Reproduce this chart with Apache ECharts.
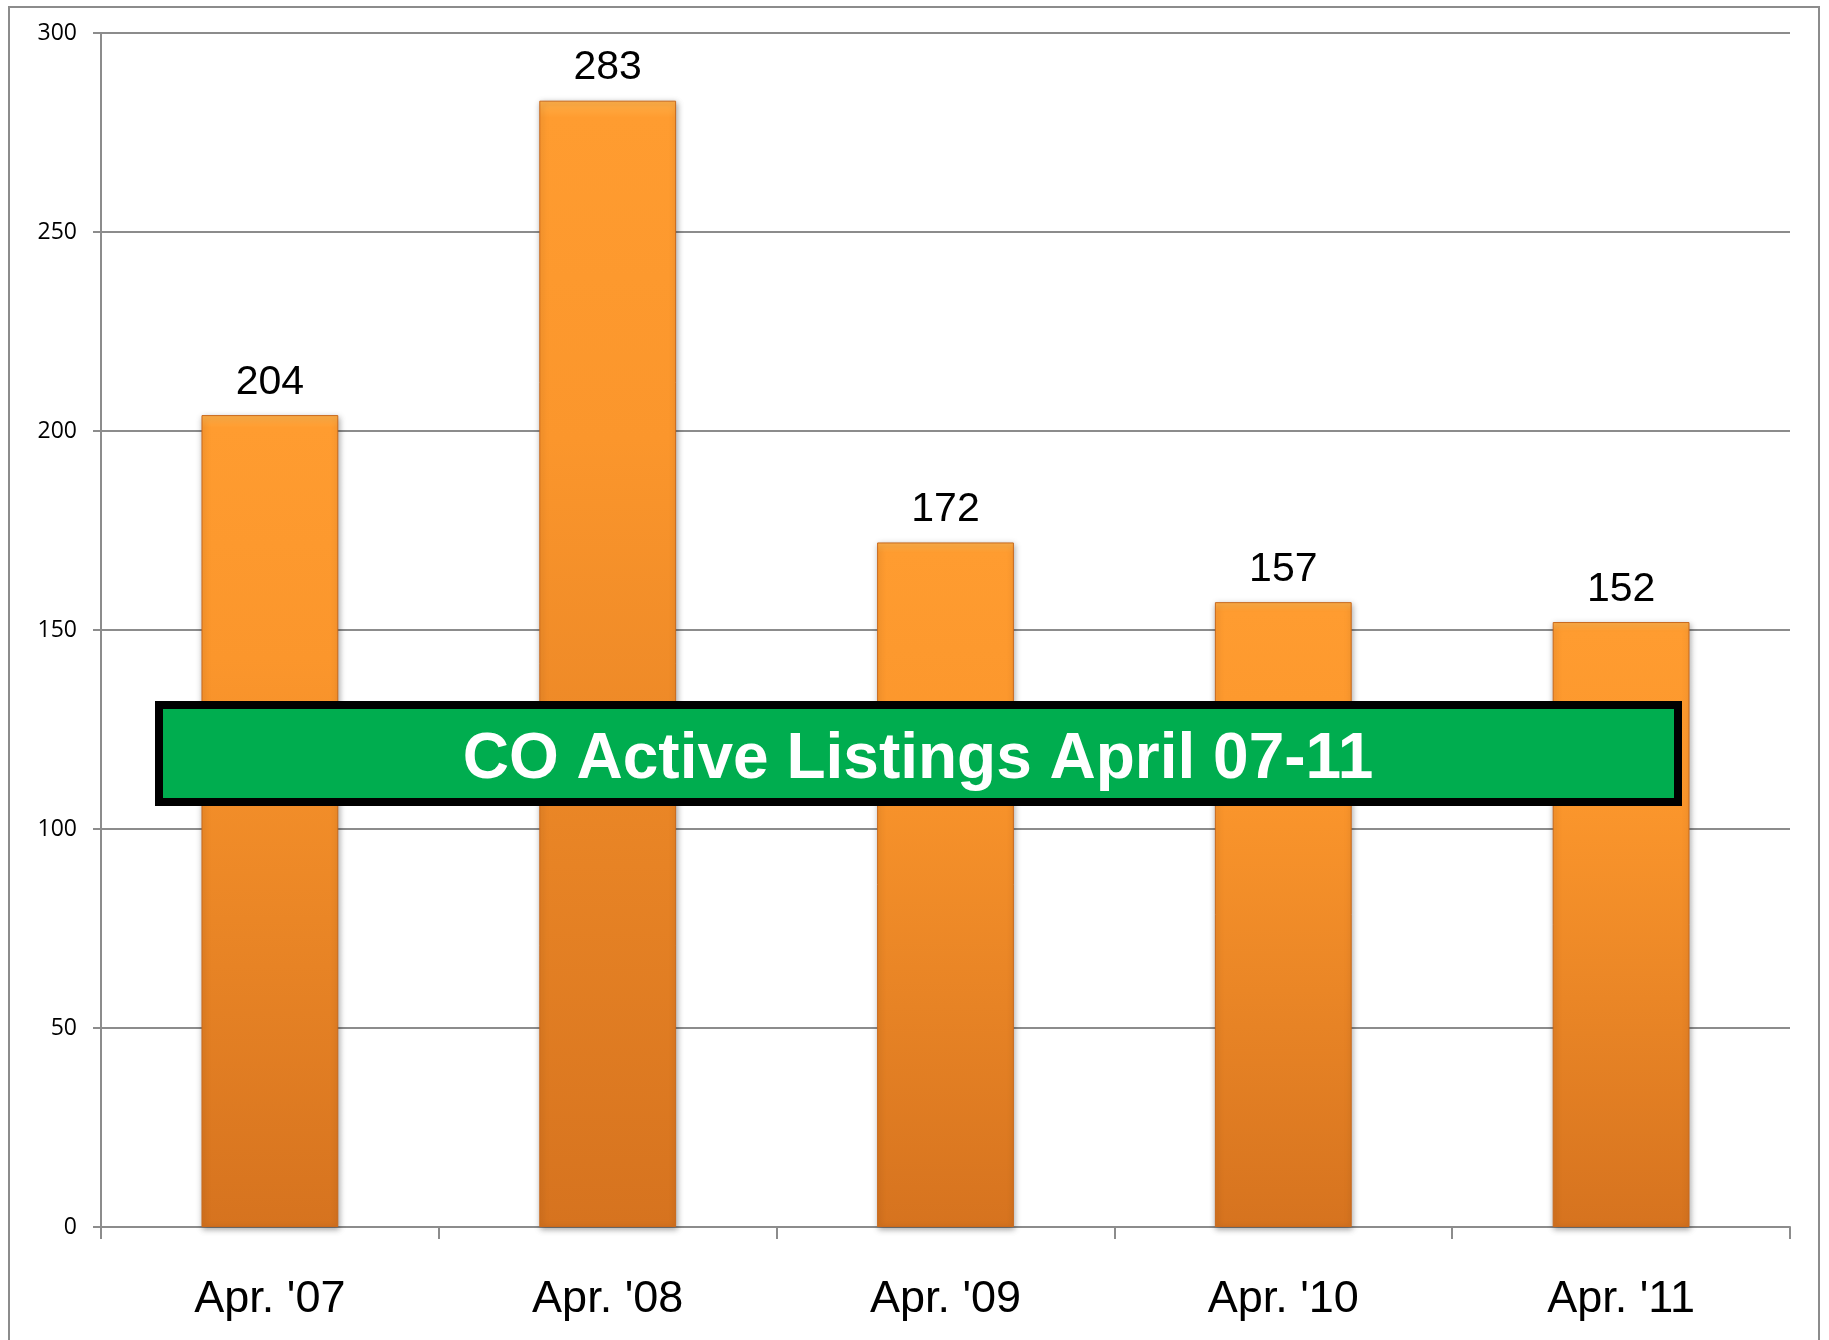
<!DOCTYPE html>
<html>
<head>
<meta charset="utf-8">
<script src="https://cdn.jsdelivr.net/npm/echarts@6/dist/echarts.min.js"></script>
<style>
  html, body { margin: 0; padding: 0; background: #fff; }
  #chart { width: 1829px; height: 1340px; }
</style>
</head>
<body>
<div id="chart"></div>
<script>
// data
const categories = ["Apr. '07", "Apr. '08", "Apr. '09", "Apr. '10", "Apr. '11"];
const listings = [204, 283, 172, 157, 152];
const boxTitle = "CO Active Listings April 07-11";

let myChart = echarts.init(document.getElementById("chart"));

let option = {
  backgroundColor: "#fff",
  animation: false,
  grid: {
    left: 101,
    top: 33,
    right: 39,
    bottom: 113,
  },
  xAxis: {
    type: "category",
    data: categories,
    axisLine: { lineStyle: { color: "#8c8c8c", width: 2 } },
    axisTick: { show: true, length: 12, lineStyle: { color: "#8c8c8c", width: 2 } },
    axisLabel: {
      color: "#000",
      fontFamily: "Liberation Sans, Arial, sans-serif",
      fontSize: 45,
      margin: 50,
    },
  },
  yAxis: {
    type: "value",
    min: 0,
    max: 300,
    interval: 50,
    axisLine: { show: true, lineStyle: { color: "#8c8c8c", width: 2 } },
    axisTick: { show: true, length: 8, lineStyle: { color: "#8c8c8c", width: 2 } },
    splitLine: { lineStyle: { color: "#8c8c8c", width: 2 } },
    axisLabel: {
      color: "#000",
      fontFamily: "Open Sans, sans-serif",
      fontSize: 23,
      margin: 24,
    },
  },
  series: [
    {
      name: "Active Listings",
      type: "bar",
      data: listings,
      barWidth: "40.5%",
      itemStyle: {
        color: new echarts.graphic.LinearGradient(0, 0, 0, 1, [
          { offset: 0, color: "#ffb04a" },
          { offset: 0.015, color: "#ff9c30" },
          { offset: 0.3, color: "#fb962c" },
          { offset: 1, color: "#d6731f" },
        ]),
        borderColor: "#c9691c",
        borderWidth: 1,
        shadowBlur: 6,
        shadowColor: "rgba(0,0,0,0.35)",
        shadowOffsetX: 1,
        shadowOffsetY: 2,
      },
      label: {
        show: true,
        position: "top",
        distance: 12,
        color: "#000",
        fontFamily: "Liberation Sans, Arial, sans-serif",
        fontSize: 41,
      },
    },
  ],
  graphic: [
    {
      // outer frame
      type: "rect",
      shape: { x: 9, y: 7, width: 1810, height: 1345 },
      style: { fill: null, stroke: "#8c8c8c", lineWidth: 2 },
      z: 0,
      silent: true,
    },
    {
      type: "rect",
      shape: { x: 159, y: 705, width: 1519, height: 97 },
      style: { fill: "#00ad4f", stroke: "#000", lineWidth: 8 },
      z: 100,
    },
    {
      type: "text",
      x: 918,
      y: 760,
      style: {
        text: boxTitle,
        fill: "#fff",
        font: "bold 64px 'Liberation Sans', Arial, sans-serif",
        align: "center",
        verticalAlign: "middle",
      },
      z: 101,
    },
  ],
};

myChart.setOption(option);
</script>
</body>
</html>
